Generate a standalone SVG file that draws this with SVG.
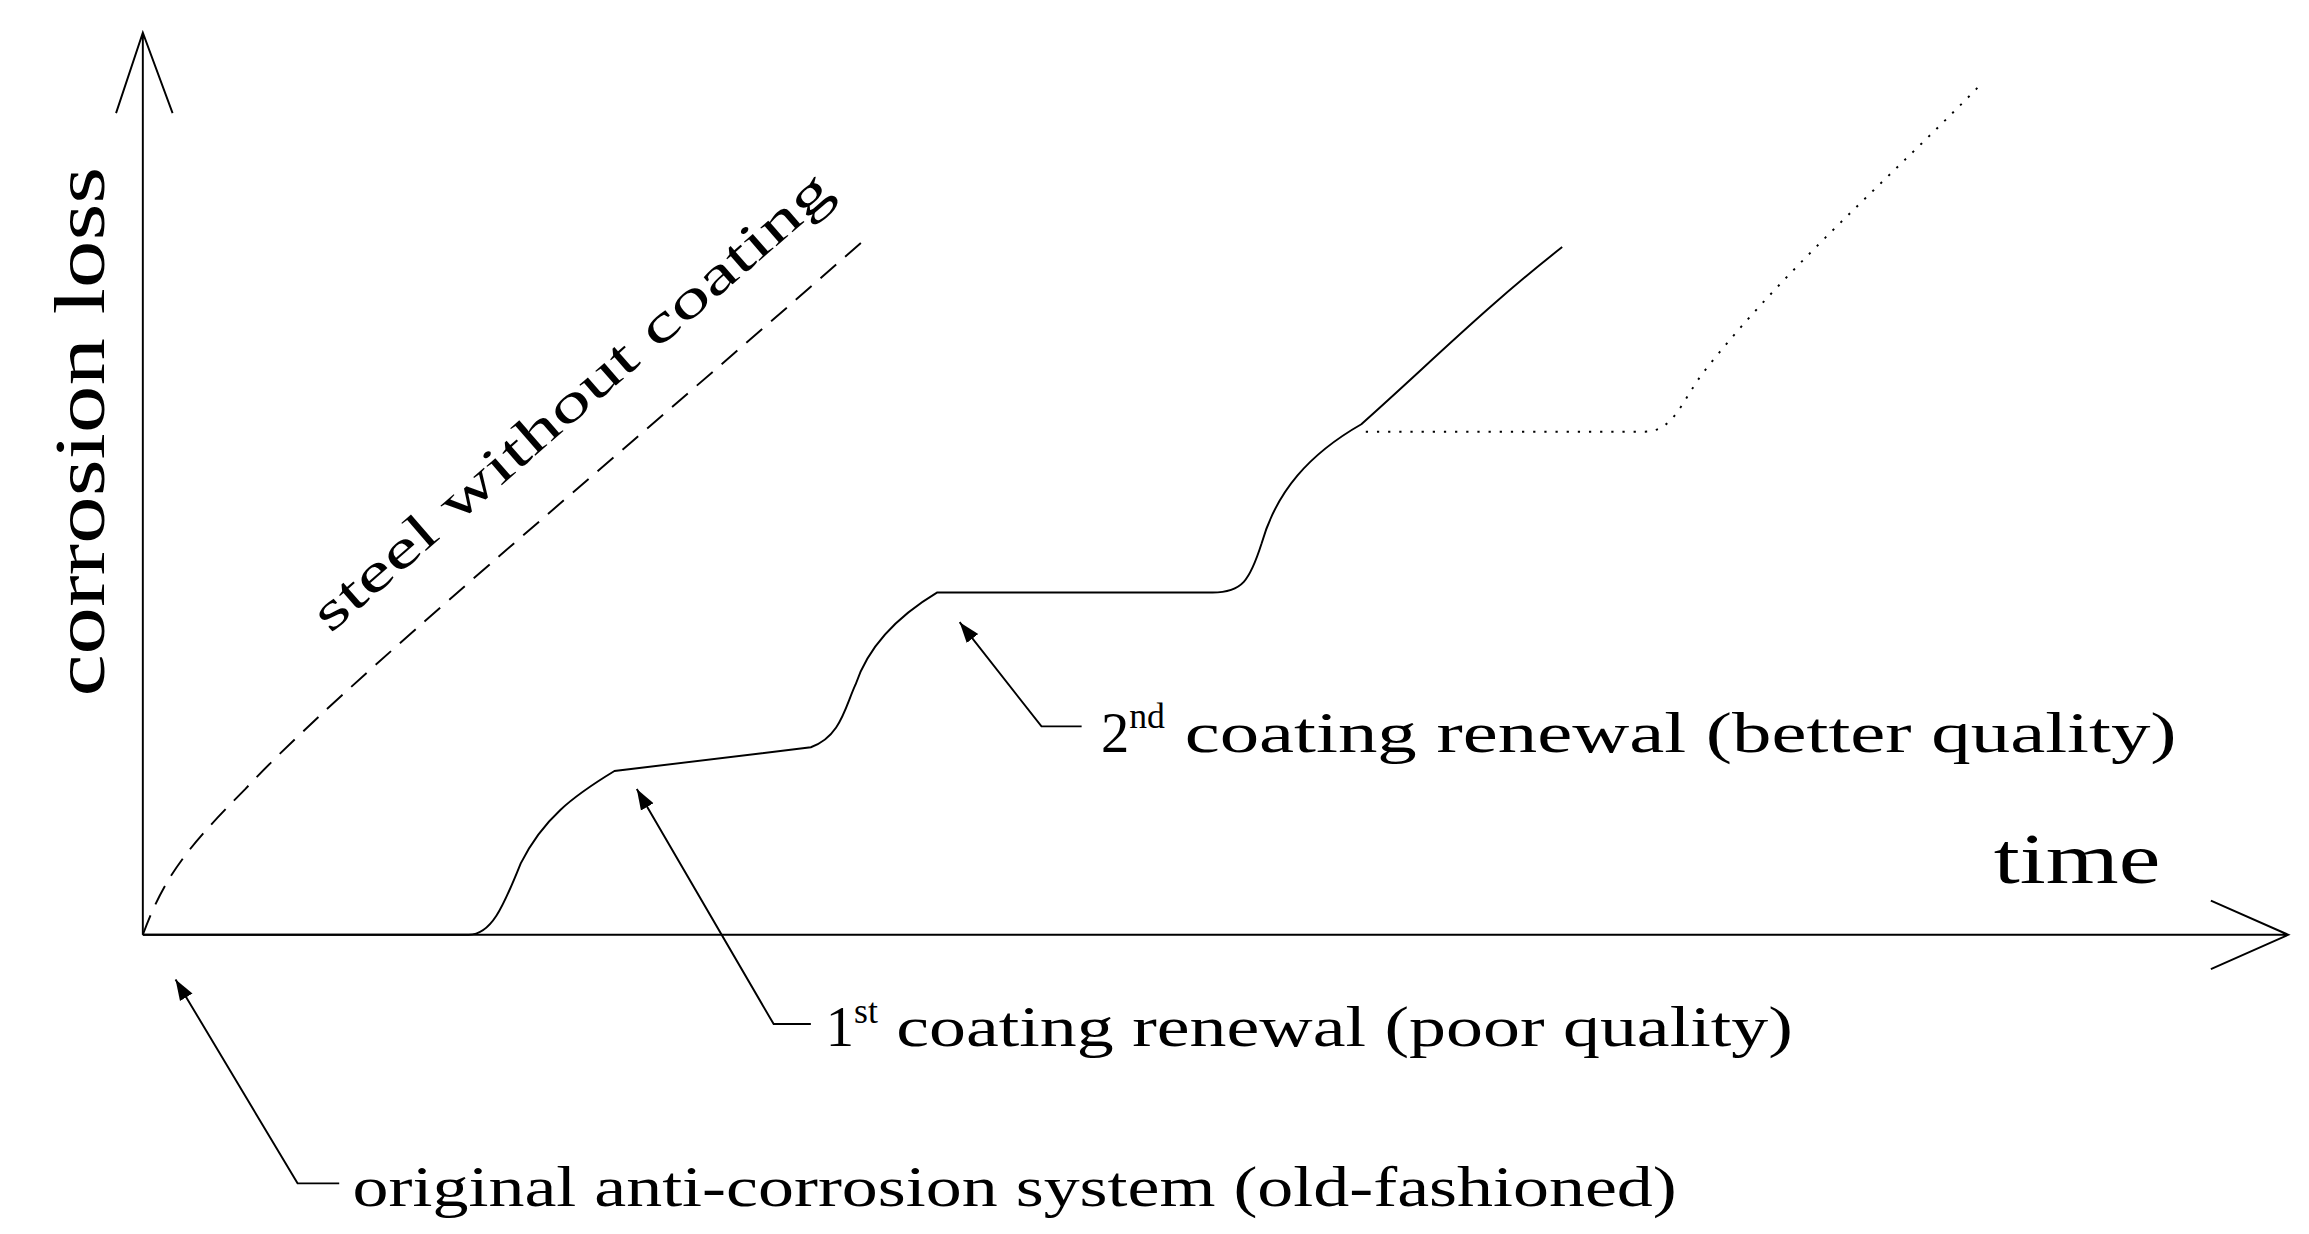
<svg xmlns="http://www.w3.org/2000/svg" width="2309" height="1234" viewBox="0 0 2309 1234">
<style>
.l{fill:none;stroke:#000;stroke-width:1.3}
.t{font-family:"Liberation Serif",serif;fill:#000}
</style>
<defs>
<marker id="a" viewBox="0 0 10 10" refX="10" refY="5" markerWidth="14" markerHeight="14" markerUnits="userSpaceOnUse" orient="auto"><path d="M0,1.5L10,5L0,8.5z" fill="#000"/></marker>
</defs>
<rect width="2309" height="1234" fill="#fff"/>
<g transform="scale(1.4878,1.4885)">
<g id="axes">
<path class="l" d="M96,628V22M78,76L96,22L116,76"/>
<path class="l" d="M96,628H1538M1486,605L1538,628L1486,651"/>
</g>
<g id="curves">
<path class="l" d="M96,628L315,628C330,628 338,610 350,580C365,550 385,535 413,518L545,502C565,495 568,475 575,460C585,430 610,410 630,398L815,398C835,398 840,390 848,365C858,330 880,305 915,285C960,245 1000,205 1050,166" stroke-width="1.6"/>
<path class="l" d="M918,290H1105C1125,290 1130,270 1145,250C1200,180 1270,120 1333,55" stroke-dasharray="1.5,6"/>
<path class="l" d="M96,628C110,590 125,570 165,530C230,460 400,320 580,162" stroke-dasharray="14,8"/>
</g>
<g id="labels">
<text class="t" font-size="48" transform="translate(70,468) rotate(-90)" textLength="356" lengthAdjust="spacingAndGlyphs">corrosion loss</text>
<text class="t" font-size="36" transform="translate(222,426) rotate(-41)" textLength="450" lengthAdjust="spacingAndGlyphs">steel without coating</text>
<text class="t" font-size="48" x="1340" y="593" textLength="112" lengthAdjust="spacingAndGlyphs">time</text>
</g>
<g id="connectors">
<path class="l" d="M228,795H200L118,658" marker-end="url(#a)"/>
<path class="l" d="M545,688H520L428,530" marker-end="url(#a)"/>
<path class="l" d="M727,488H700L645,418" marker-end="url(#a)"/>
</g>
<g id="notes">
<text class="t" font-size="38" x="237" y="810" textLength="890" lengthAdjust="spacingAndGlyphs">original anti-corrosion system (old-fashioned)</text>
<text class="t" font-size="38" x="555" y="703">1<tspan font-size="24" dy="-16">st</tspan><tspan dy="16" textLength="615" lengthAdjust="spacingAndGlyphs"> coating renewal (poor quality)</tspan></text>
<text class="t" font-size="38" x="740" y="505">2<tspan font-size="24" dy="-16">nd</tspan><tspan dy="16" textLength="680" lengthAdjust="spacingAndGlyphs"> coating renewal (better quality)</tspan></text>
</g>
</g>
</svg>
